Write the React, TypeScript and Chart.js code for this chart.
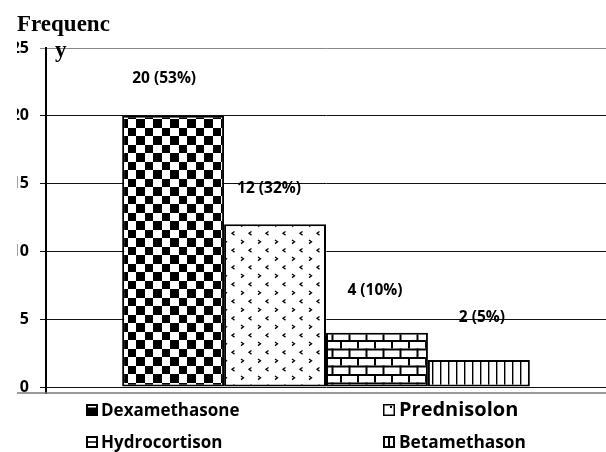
import { useEffect, useRef } from "react";
import { Chart, registerables } from "chart.js";

Chart.register(...registerables);

const categories = [""];
const seriesNames = ["Dexamethasone", "Prednisolon", "Hydrocortison", "Betamethason"];
const seriesValues = [20, 12, 4, 2];
const seriesPercents = [53, 32, 10, 5];
const yMin = 0;
const yMax = 25;
const yStep = 5;
const axisTitleParts = ["Frequenc", "y"];

const SANS = "'Open Sans'";
const LABEL_FONT = `bold 15.5px ${SANS}`;
const labelShift = [
  [-9, -37],
  [-6, -36],
  [-2, -42],
  [3, -42],
];

function tile(w: number, h: number, draw: (g: CanvasRenderingContext2D) => void) {
  const c = document.createElement("canvas");
  c.width = w;
  c.height = h;
  const g = c.getContext("2d")!;
  g.fillStyle = "#fff";
  g.fillRect(0, 0, w, h);
  g.fillStyle = "#000";
  g.strokeStyle = "#000";
  draw(g);
  return c;
}

function makePatterns(ctx: CanvasRenderingContext2D) {
  const checker = tile(17, 17, (g) => {
    g.fillRect(0, 0, 9, 9);
    g.fillRect(9, 9, 8, 8);
  });
  const chevrons = tile(17, 17, (g) => {
    g.lineWidth = 1.3;
    g.beginPath();
    g.moveTo(3, 2);
    g.lineTo(5.5, 3.8);
    g.lineTo(3, 5.6);
    g.stroke();
    g.beginPath();
    g.moveTo(13.5, 10.5);
    g.lineTo(11, 12.3);
    g.lineTo(13.5, 14.1);
    g.stroke();
  });
  const bricks = tile(17, 17, (g) => {
    g.fillRect(0, 0, 17, 2);
    g.fillRect(0, 8.5, 17, 2);
    g.fillRect(0, 0, 2, 8.5);
    g.fillRect(8.5, 8.5, 2, 8.5);
  });
  const stripes = tile(8, 8, (g) => {
    g.fillRect(0, 0, 1.4, 8);
  });
  return [checker, chevrons, bricks, stripes].map((c) => ctx.createPattern(c, "repeat")!);
}

function drawIcon(ctx: CanvasRenderingContext2D, i: number, x: number, y: number, s: number) {
  ctx.save();
  ctx.fillStyle = "#000";
  ctx.strokeStyle = "#000";
  if (i === 0) {
    ctx.fillRect(x, y, s, s);
    ctx.fillStyle = "#fff";
    ctx.fillRect(x + 2, y + 2, s - 4, 1.5);
  } else if (i === 1) {
    ctx.lineWidth = 1.5;
    ctx.strokeRect(x + 0.75, y + 0.75, s - 1.5, s - 1.5);
    ctx.fillRect(x + s - 5, y + 2, 2, 2);
  } else if (i === 2) {
    ctx.lineWidth = 2;
    ctx.strokeRect(x + 1, y + 1, s - 2, s - 2);
    ctx.fillRect(x, y + s / 2 - 0.75, s, 1.5);
  } else {
    ctx.lineWidth = 2;
    ctx.strokeRect(x + 1, y + 1, s - 2, s - 2);
    ctx.fillRect(x + s / 2 - 1, y, 2, s);
  }
  ctx.restore();
}

const decorPlugin = {
  id: "decor",
  afterDatasetsDraw(chart: any) {
    const ctx: CanvasRenderingContext2D = chart.ctx;
    ctx.save();
    ctx.font = LABEL_FONT;
    ctx.fillStyle = "#000";
    ctx.textAlign = "center";
    ctx.textBaseline = "middle";
    chart.data.datasets.forEach((ds: any, i: number) => {
      const el = chart.getDatasetMeta(i).data[0];
      if (!el) return;
      const txt = `${seriesValues[i]} (${seriesPercents[i]}%)`;
      ctx.fillText(txt, el.x + labelShift[i][0], el.y + labelShift[i][1]);
    });
    ctx.restore();
  },
  afterDraw(chart: any) {
    const ctx: CanvasRenderingContext2D = chart.ctx;
    const area = chart.chartArea;
    ctx.save();
    // clip tick labels on the left like the cropped original
    ctx.fillStyle = "#fff";
    ctx.fillRect(0, 36, 17, 364);
    // axis extension and lower rule
    ctx.strokeStyle = "#000";
    ctx.lineWidth = 2;
    ctx.beginPath();
    ctx.moveTo(area.left, area.bottom);
    ctx.lineTo(area.left, area.bottom + 7);
    ctx.stroke();
    ctx.strokeStyle = "#7a7a7a";
    ctx.lineWidth = 1.5;
    ctx.beginPath();
    ctx.moveTo(17, area.bottom + 6);
    ctx.lineTo(chart.width, area.bottom + 6);
    ctx.stroke();
    // axis title (wrapped)
    ctx.fillStyle = "#000";
    ctx.font = "bold 23px 'Liberation Serif'";
    ctx.textAlign = "left";
    ctx.textBaseline = "alphabetic";
    ctx.fillText(axisTitleParts[0], 17, 30.5);
    ctx.fillText(axisTitleParts[1], 55, 56.5);
    // legend
    const cols = [
      { icon: 86, text: 101 },
      { icon: 383, text: 399 },
    ];
    const rows = [416, 448];
    const sizes = [17, 20, 17, 17.3];
    chart.data.datasets.forEach((ds: any, i: number) => {
      const c = cols[i % 2];
      const r = rows[Math.floor(i / 2)];
      const s = 12;
      drawIcon(ctx, i, c.icon, r - 12, s);
      ctx.font = `bold ${sizes[i]}px ${SANS}`;
      ctx.fillStyle = "#000";
      ctx.fillText(ds.label, c.text, r);
    });
    ctx.restore();
  },
};

export default function App() {
  const ref = useRef<HTMLCanvasElement>(null);
  useEffect(() => {
    const canvas = ref.current!;
    const ctx = canvas.getContext("2d")!;
    const patterns = makePatterns(ctx);
    const chart = new Chart(canvas, {
      type: "bar",
      data: {
        labels: categories,
        datasets: seriesNames.map((name, i) => ({
          label: name,
          data: [seriesValues[i]],
          backgroundColor: patterns[i],
          borderColor: "#000",
          borderWidth: 2,
          borderSkipped: false,
          categoryPercentage: 0.728,
          barPercentage: 1,
        })),
      },
      options: {
        responsive: false,
        animation: false,
        layout: { padding: { top: 48, bottom: 65, left: 0, right: -5 } },
        plugins: {
          legend: { display: false },
          tooltip: { enabled: false },
        },
        scales: {
          x: { display: false },
          y: {
            min: yMin,
            max: yMax,
            ticks: {
              stepSize: yStep,
              color: "#000",
              padding: 11,
              font: { family: "Open Sans", size: 16, weight: "bold" },
            },
            grid: {
              color: (c: any) => (c.tick && c.tick.value === yMax ? "#888" : "#111"),
              lineWidth: 1,
              tickLength: 6,
            },
            border: { color: "#000", width: 2 },
            afterFit: (s: any) => {
              s.width = 46;
            },
          },
        },
      },
      plugins: [decorPlugin],
    } as any);
    return () => chart.destroy();
  }, []);
  return (
    <div style={{ position: "absolute", left: 0, top: 0, width: 606, height: 452, background: "#fff" }}>
      <canvas ref={ref} width={606} height={452} style={{ display: "block", width: 606, height: 452 }} />
    </div>
  );
}
